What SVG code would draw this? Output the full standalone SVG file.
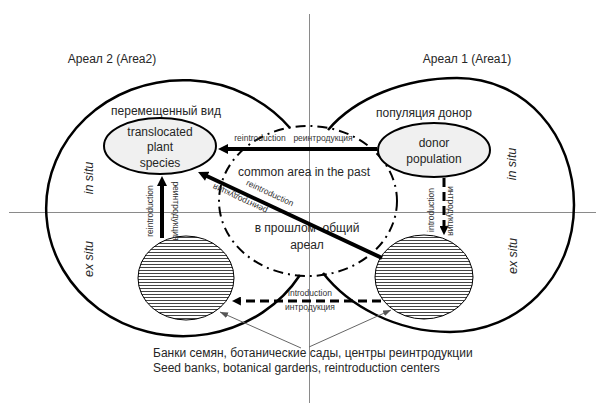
<svg xmlns="http://www.w3.org/2000/svg" width="596" height="403" viewBox="0 0 596 403">
<style>
text{font-family:"Liberation Sans",Arial,sans-serif;fill:#262626}
.t12{font-size:12px}
.sm{font-size:8.5px;fill:#333}
.it{font-size:12.5px;font-style:italic}
.mid{text-anchor:middle}
.axis{stroke:#8a8a8a;stroke-width:1;fill:none}
.area{fill:none;stroke:#000;stroke-width:2.5}
.common{fill:none;stroke:#000;stroke-width:2;stroke-dasharray:10 5 2 5}
.pop{fill:#f0f0f0;stroke:#000;stroke-width:2}
.bank{fill:url(#hatch);stroke:#000;stroke-width:1}
.thick{stroke:#000;stroke-width:4;fill:none}
.dash{stroke:#000;stroke-width:3;fill:none;stroke-dasharray:9 5}
.thin{stroke:#666;stroke-width:1;fill:none}
</style>
<defs>
<pattern id="hatch" patternUnits="userSpaceOnUse" width="8" height="3">
<rect width="8" height="3" fill="#fff"/>
<rect y="0" width="8" height="1" fill="#444"/>
</pattern>
<marker id="ah" viewBox="0 0 10 10" refX="1" refY="5" markerWidth="11" markerHeight="10" orient="auto" markerUnits="userSpaceOnUse">
<path d="M0,0 L10,5 L0,10 z" fill="#000"/>
</marker>
<marker id="ahs" viewBox="0 0 10 10" refX="1" refY="5" markerWidth="9" markerHeight="9" orient="auto" markerUnits="userSpaceOnUse">
<path d="M0,0 L10,5 L0,10 z" fill="#000"/>
</marker>
<marker id="at" viewBox="0 0 8 6" refX="8" refY="3" markerWidth="8" markerHeight="6" orient="auto" markerUnits="userSpaceOnUse">
<path d="M0,0 L8,3 L0,6 z" fill="#555"/>
</marker>
</defs>

<g id="axes">
<line class="axis" x1="309.5" y1="14" x2="309.5" y2="403"/>
<line class="axis" x1="9" y1="212.5" x2="596" y2="212.5"/>
</g>

<g id="area2">
<path class="area" d="M290,128 A137,128 0 1 0 300,275"/>
<text class="t12 mid" x="112" y="63">Ареал 2 (Area2)</text>
<text class="it mid" transform="translate(89,178) rotate(-90)" dy="0.35em">in situ</text>
<text class="it mid" transform="translate(89,259) rotate(-90)" dy="0.35em">ex situ</text>
</g>

<g id="area1">
<path class="area" d="M328,130 C355,98 405,78 457,78 C525,78 574,135 574,205 C574,278 518,332 450,332 C395,332 348,305 323,273"/>
<text class="t12 mid" x="467" y="63">Ареал 1 (Area1)</text>
<text class="it mid" transform="translate(512,164) rotate(-90)" dy="0.35em">in situ</text>
<text class="it mid" transform="translate(513,256) rotate(-90)" dy="0.35em">ex situ</text>
</g>

<g id="common-area">
<ellipse class="common" cx="308" cy="201" rx="89" ry="75"/>
<text class="t12 mid" x="304" y="176">common area in the past</text>
<text class="t12 mid" x="307" y="232" style="white-space:pre">в прошлом  общий</text>
<text class="t12 mid" x="307" y="249">ареал</text>
</g>

<g id="translocated">
<text class="t12 mid" x="166" y="115">перемещенный вид</text>
<ellipse class="pop" cx="160" cy="146" rx="56" ry="28"/>
<text class="t12 mid" x="160" y="136">translocated</text>
<text class="t12 mid" x="160" y="151">plant</text>
<text class="t12 mid" x="160" y="167">species</text>
</g>

<g id="donor">
<text class="t12 mid" x="424" y="117">популяция донор</text>
<ellipse class="pop" cx="434" cy="150" rx="56" ry="27"/>
<text class="t12 mid" x="434" y="147">donor</text>
<text class="t12 mid" x="434" y="163">population</text>
</g>

<g id="bank2">
<ellipse class="bank" cx="186" cy="278" rx="48" ry="42"/>
</g>

<g id="bank1">
<ellipse class="bank" cx="424" cy="277" rx="49" ry="42"/>
</g>

<g id="banks-label">
<text class="t12" x="153" y="357">Банки семян, ботанические сады, центры реинтродукции</text>
<text class="t12" x="153" y="372">Seed banks, botanical gardens, reintroduction centers</text>
</g>

<g id="connectors">
<line class="thick" x1="377" y1="149" x2="227" y2="149" marker-end="url(#ah)"/>
<text class="sm mid" x="260" y="141">reintroduction</text>
<text class="sm mid" x="323" y="141">реинтродукция</text>

<line class="thick" x1="382" y1="258" x2="206.2" y2="175.8" marker-end="url(#ah)"/>
<text class="sm mid" transform="translate(270,193) rotate(25)" dy="0.35em">reintroduction</text>
<text class="sm mid" transform="translate(240,199) rotate(205)" dy="0.35em">реинтродукция</text>

<line class="thick" x1="162" y1="238" x2="162" y2="185" marker-end="url(#ah)"/>
<text class="sm mid" transform="translate(150,211) rotate(-90)" dy="0.35em">reintroduction</text>
<text class="sm mid" transform="translate(176,211) rotate(90)" dy="0.35em">реинтродукция</text>

<line class="dash" x1="444" y1="178" x2="444" y2="227" marker-end="url(#ahs)"/>
<text class="sm mid" transform="translate(431,210) rotate(-90)" dy="0.35em">introduction</text>
<text class="sm mid" transform="translate(451,211) rotate(90)" dy="0.35em">интродукция</text>

<line class="dash" x1="381" y1="301" x2="240" y2="301" marker-end="url(#ahs)"/>
<text class="sm mid" x="310" y="296">introduction</text>
<text class="sm mid" x="310" y="310">интродукция</text>

<line class="thin" x1="301" y1="348" x2="220" y2="312" marker-end="url(#at)"/>
<line class="thin" x1="309" y1="347" x2="391" y2="310" marker-end="url(#at)"/>
</g>
</svg>
